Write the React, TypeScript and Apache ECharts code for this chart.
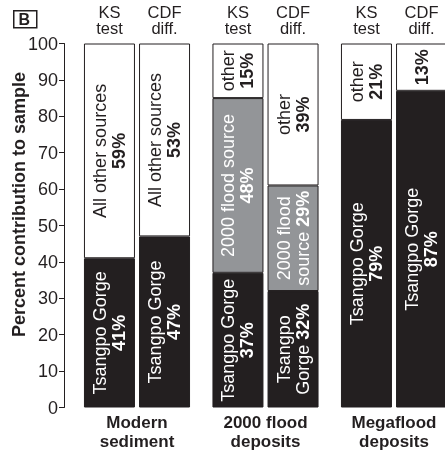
import React, { useEffect, useRef } from 'react';
import * as echarts from 'echarts';

const groups = ['Modern\nsediment', '2000 flood\ndeposits', 'Megaflood\ndeposits'];
const methods = ['KS\ntest', 'CDF\ndiff.'];
const yTicks = { min: 0, max: 100, interval: 10 };

const ksTsangpo = [41, 37, 79];
const ksFlood = [null, 48, null];
const ksOther = [59, 15, 21];
const cdfTsangpo = [47, 32, 87];
const cdfFlood = [null, 29, null];
const cdfOther = [53, 39, 13];

// label templates: {v} is replaced by the bold percentage
const ksTsangpoText = ['Tsangpo Gorge\n{v}', 'Tsangpo Gorge\n{v}', 'Tsangpo Gorge\n{v}'];
const ksFloodText = ['', '2000 flood source\n{v}', ''];
const ksOtherText = ['All other sources\n{v}', 'other\n{v}', 'other\n{v}'];
const cdfTsangpoText = ['Tsangpo Gorge\n{v}', 'Tsangpo\nGorge {v}', 'Tsangpo Gorge\n{v}'];
const cdfFloodText = ['', '2000 flood\nsource {v}', ''];
const cdfOtherText = ['All other sources\n{v}', 'other\n{v}', '{v}'];

const DARK = '#231f20';
const GRAY = '#939598';
const FONT = '"Liberation Sans", Arial, Helvetica, sans-serif';

function richText(tpl: string, v: number | null): string {
  if (v == null || !tpl) return '';
  return tpl
    .split('\n')
    .map((line) => {
      const parts = line.split('{v}');
      return parts
        .map((p, i) => (p ? `{n|${p}}` : '') + (i < parts.length - 1 ? `{b|${v}%}` : ''))
        .join('');
    })
    .join('\n');
}

function segSeries(name: string, stack: string, values: (number | null)[], texts: string[], fill: string, textColor: string) {
  return {
    name,
    type: 'bar',
    stack,
    barWidth: 51,
    barGap: '8%',
    data: values.map((v) => (v == null ? '-' : v)),
    itemStyle: { color: fill, borderColor: DARK, borderWidth: 1 },
    label: {
      show: true,
      position: 'inside',
      rotate: 90,
      align: 'center',
      verticalAlign: 'middle',
      formatter: (p: any) => richText(texts[p.dataIndex], values[p.dataIndex]),
      rich: {
        n: { fontSize: 18, lineHeight: 19, color: textColor, fontFamily: FONT },
        b: { fontSize: 18, lineHeight: 19, color: textColor, fontWeight: 'bold', fontFamily: FONT },
      },
    },
  };
}

function headerSeries(stack: string, text: string) {
  return {
    name: text,
    type: 'bar',
    stack,
    barWidth: 51,
    barGap: '8%',
    data: groups.map(() => 0),
    itemStyle: { color: 'transparent', borderWidth: 0 },
    label: {
      show: true,
      position: 'top',
      distance: 7,
      formatter: text,
      fontSize: 16.5,
      lineHeight: 16.5,
      color: DARK,
      fontFamily: FONT,
    },
  };
}

export default function App() {
  const ref = useRef<HTMLDivElement>(null);
  useEffect(() => {
    if (!ref.current) return;
    const chart = echarts.init(ref.current, null, { renderer: 'svg' });
    chart.setOption({
      animation: false,
      textStyle: { fontFamily: FONT },
      grid: { left: 72.75, right: -13.25, top: 43.5, bottom: 45.5, outerBoundsMode: 'none' },
      xAxis: {
        type: 'category',
        data: groups,
        axisLine: { show: false },
        axisTick: { show: false },
        axisLabel: { fontSize: 17, fontWeight: 'bold', lineHeight: 19, color: DARK, margin: 5, fontFamily: FONT },
      },
      yAxis: {
        type: 'value',
        min: yTicks.min,
        max: yTicks.max,
        interval: yTicks.interval,
        offset: 8.75,
        axisLine: { show: true, lineStyle: { color: DARK, width: 1 } },
        axisTick: { show: true, length: 5, lineStyle: { color: DARK, width: 1 } },
        axisLabel: { fontSize: 18, color: DARK, margin: 6, fontFamily: FONT },
        splitLine: { show: false },
        name: 'Percent contribution to sample',
        nameLocation: 'middle',
        nameGap: 36,
        nameMoveOverlap: false,
        nameTextStyle: { fontSize: 18, fontWeight: 'bold', color: DARK, padding: [0, 0, 0, 42], fontFamily: FONT },
      },
      graphic: [
        { type: 'rect', left: 13, top: 10, shape: { width: 23, height: 17 }, style: { fill: '#fff', stroke: DARK, lineWidth: 1.5 } },
        { type: 'text', left: 18.5, top: 11, style: { text: 'B', fontSize: 16, fontWeight: 'bold', fill: DARK, fontFamily: FONT } },
      ],
      series: [
        segSeries('KS Tsangpo Gorge', 'ks', ksTsangpo, ksTsangpoText, DARK, '#fff'),
        segSeries('KS 2000 flood source', 'ks', ksFlood, ksFloodText, GRAY, '#fff'),
        segSeries('KS other', 'ks', ksOther, ksOtherText, '#fff', DARK),
        headerSeries('ks', methods[0]),
        segSeries('CDF Tsangpo Gorge', 'cdf', cdfTsangpo, cdfTsangpoText, DARK, '#fff'),
        segSeries('CDF 2000 flood source', 'cdf', cdfFlood, cdfFloodText, GRAY, '#fff'),
        segSeries('CDF other', 'cdf', cdfOther, cdfOtherText, '#fff', DARK),
        headerSeries('cdf', methods[1]),
      ],
    });
    return () => chart.dispose();
  }, []);
  return <div ref={ref} style={{ position: 'fixed', left: 0, top: 0, width: 445, height: 453 }} />;
}
